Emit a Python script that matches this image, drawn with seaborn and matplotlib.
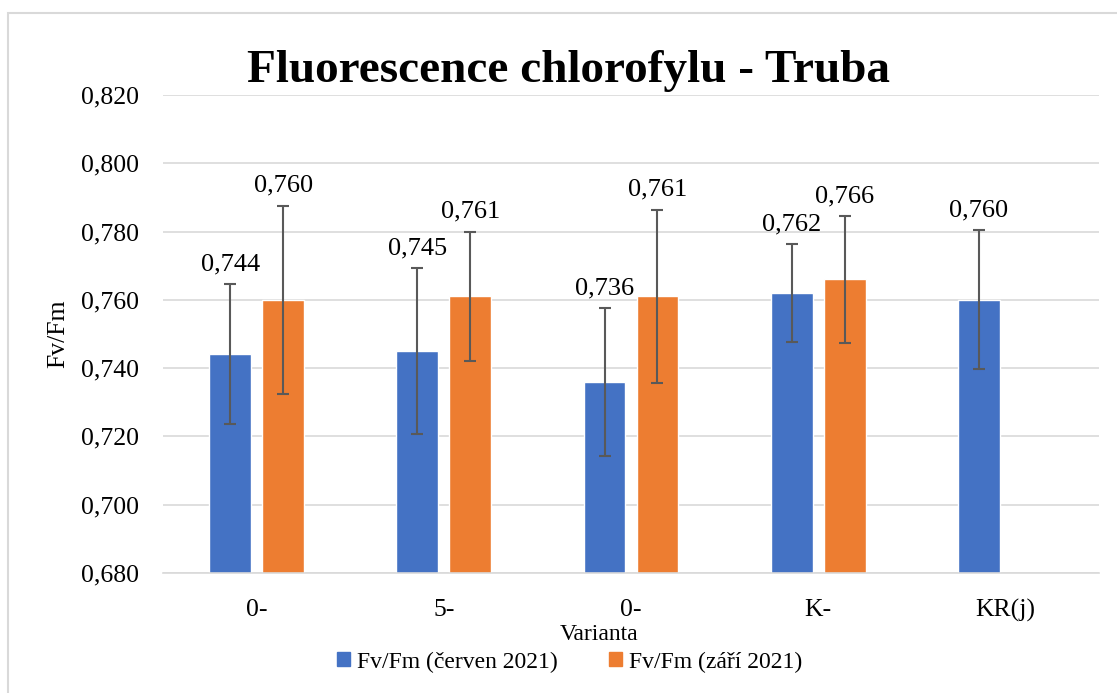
import pandas as pd
import matplotlib
matplotlib.use("Agg")
import matplotlib.pyplot as plt
import seaborn as sns
from matplotlib.ticker import FuncFormatter, MultipleLocator
from matplotlib.patches import Rectangle

# -------------------------------
# Data
# -------------------------------
categories = ["0-", "5-", "0-", "K-", "KR(j)"]
series_names = ["Fv/Fm (červen 2021)", "Fv/Fm (září 2021)"]
june_values = [0.744, 0.745, 0.736, 0.762, 0.760]
june_errors = [0.0205, 0.0243, 0.0216, 0.0143, 0.0204]
sept_values = [0.760, 0.761, 0.761, 0.766, 0.0]
sept_errors = [0.0276, 0.0190, 0.0254, 0.0185, 0.0]

colors = ["#4472C4", "#ED7D31"]

# long-form table for seaborn (position index keeps duplicate "0-" apart)
df = pd.DataFrame({
    "pos": list(range(len(categories))) * 2,
    "value": june_values + sept_values,
    "err": june_errors + sept_errors,
    "series": [series_names[0]] * len(categories) + [series_names[1]] * len(categories),
})

# -------------------------------
# Style
# -------------------------------
sns.set_style("white")
plt.rcParams["font.family"] = ["Liberation Serif", "DejaVu Serif"]
plt.rcParams["text.color"] = "black"
plt.rcParams["axes.labelcolor"] = "black"
plt.rcParams["xtick.color"] = "black"
plt.rcParams["ytick.color"] = "black"

fig = plt.figure(figsize=(11.17, 6.93), dpi=100)
ax = fig.add_axes([0.1459, 0.1732, 0.8380, 0.6897])

sns.barplot(data=df, x="pos", y="value", hue="series", palette=colors,
            width=0.566, gap=0.21, ax=ax, legend=False, saturation=1)

# error bars + data labels from the bar containers
for cont, errs in zip(ax.containers, [june_errors, sept_errors]):
    for bar, e in zip(cont, errs):
        x = bar.get_x() + bar.get_width() / 2
        v = bar.get_height()
        if v <= 0:
            continue
        ax.errorbar(x, v, yerr=e, fmt="none", ecolor="#595959",
                    elinewidth=1.5, capsize=4, capthick=1.5, zorder=3)
        ax.annotate(f"{v:.3f}".replace(".", ","), (x, v + e),
                    xytext=(0, 10), textcoords="offset points",
                    ha="center", va="baseline", fontsize=19)

# -------------------------------
# Axes formatting
# -------------------------------
ax.set_ylim(0.680, 0.820)
ax.set_xlim(-0.5, len(categories) - 0.5)
ax.yaxis.set_major_locator(MultipleLocator(0.02))
ax.yaxis.set_major_formatter(FuncFormatter(lambda y, _: f"{y:.3f}".replace(".", ",")))
ax.set_xticks(range(len(categories)))
ax.set_xticklabels(categories)
ax.tick_params(axis="y", length=0, pad=17, labelsize=18.5)
ax.tick_params(axis="x", length=0, pad=19, labelsize=18.5)

ax.grid(axis="y", color="#D9D9D9", linewidth=1.2)
ax.set_axisbelow(True)
for s in ["top", "right", "left"]:
    ax.spines[s].set_visible(False)
ax.spines["bottom"].set_color("#D9D9D9")
ax.spines["bottom"].set_linewidth(1.2)

ax.set_xlabel("Varianta", fontsize=17)
ax.xaxis.set_label_coords(0.466, -0.128)
ax.xaxis.label.set_va("center")
ax.set_ylabel("Fv/Fm", fontsize=18.5)
ax.yaxis.set_label_coords(-0.112, 0.5)
ax.yaxis.label.set_va("center")

fig.text(0.509, 0.898, "Fluorescence chlorofylu - Truba", ha="center", va="center",
         fontsize=34, fontweight="bold", color="black")

# legend
handles = [plt.Rectangle((0, 0), 1, 1, color=c) for c in colors]
fig.legend(handles, series_names, loc="center", bbox_to_anchor=(0.51, 1 - 662 / 693),
           ncol=2, frameon=False, fontsize=17, handlelength=0.55, handleheight=0.55,
           handletextpad=0.3, columnspacing=2.2)

# chart area border
fig.patches.append(Rectangle((8 / 1117, -0.05), 1.2, 1 - 13 / 693 + 0.05,
                             transform=fig.transFigure, fill=False,
                             edgecolor="#D9D9D9", linewidth=1.5))

fig.savefig("out.png", dpi=100)
